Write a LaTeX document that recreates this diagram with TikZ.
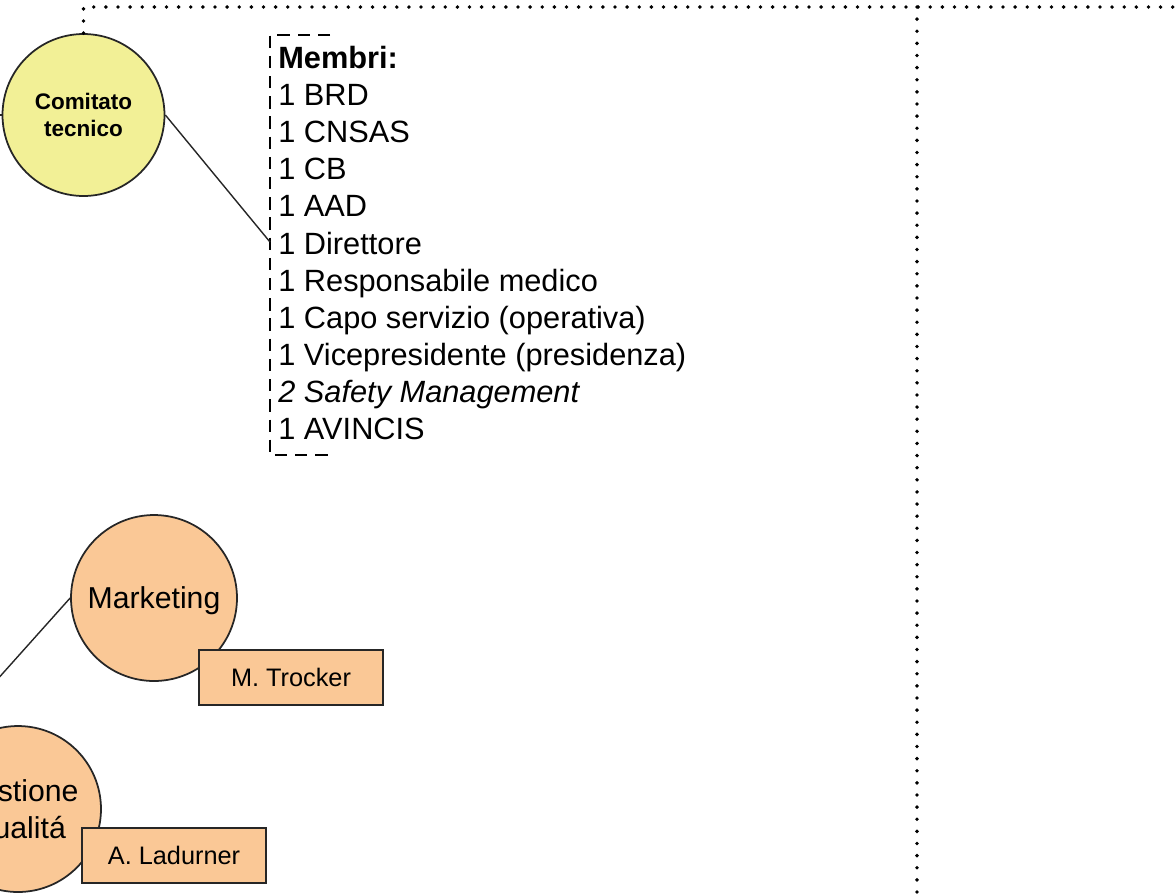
\documentclass[tikz,border=0pt]{standalone}
\usepackage{fontspec}
\setmainfont{Liberation Sans}
\definecolor{ctyellow}{HTML}{F2F096}
\definecolor{unitorange}{HTML}{FAC896}
\tikzset{
  unit/.style={circle,draw=black!85,line width=1pt,inner sep=0pt,align=center},
  namebox/.style={draw=black!85,line width=1pt,fill=unitorange,minimum width=3.68cm,minimum height=1.1cm,inner sep=0pt,font=\fontsize{14.4}{16}\selectfont},
  link/.style={draw=black!85,line width=0.8pt},
  dots/.style={line width=2.2pt,line cap=round,dash pattern=on 0pt off 6.9pt},
  dashbracket/.style={line width=0.7pt,dash pattern=on 7pt off 4.5pt}
}
\begin{document}
\begin{tikzpicture}[x=0.02cm,y=-0.02cm]
    \clip (0,0) rectangle (1176,894);
    \node[unit,fill=ctyellow,minimum size=3.24cm,font=\bfseries\fontsize{12.8}{15.3}\selectfont] (ct) at (83.5,115) {Comitato\\tecnico};
    \coordinate (ctin) at (-20,115);
    \draw[link] (ct.west) -- (ctin);
    \coordinate (cornerR) at (1185,7);
    \coordinate (vtop) at (917,7);
    \coordinate (vbot) at (917,900);
    \draw[dots] (ct.north) |- (cornerR);
    \draw[dots] (vtop) -- (vbot);
    \draw[dashbracket] (330,35) -- (270,35) -- (270,455) -- (330,455);
    \node[anchor=north west,inner sep=0pt,align=left,font=\fontsize{17.5}{21.1}\selectfont] (membri) at (278,46) {\textbf{Membri:}\\1 BRD\\1 CNSAS\\1 CB\\1 AAD\\1 Direttore\\1 Responsabile medico\\1 Capo servizio (operativa)\\1 Vicepresidente (presidenza)\\\textit{2 Safety Management}\\1 AVINCIS};
    \coordinate (dir) at (270,242);
    \draw[link] (ct.east) -- (dir);
    \node[unit,fill=unitorange,minimum size=3.32cm,text depth=0pt,font=\fontsize{17.2}{21.5}\selectfont] (mk) at (154,598) {Marketing};
    \node[namebox] (trocker) at (291,677.5) {M. Trocker};
    \coordinate (mkin) at (-30,710);
    \draw[link] (mk.west) -- (mkin);
    \node[unit,fill=unitorange,minimum size=3.32cm,text depth=0pt,font=\fontsize{17.2}{21.5}\selectfont] (gq) at (18,809) {Gestione\\Qualitá};
    \node[namebox] (ladurner) at (174,855.5) {A. Ladurner};
\end{tikzpicture}
\end{document}
